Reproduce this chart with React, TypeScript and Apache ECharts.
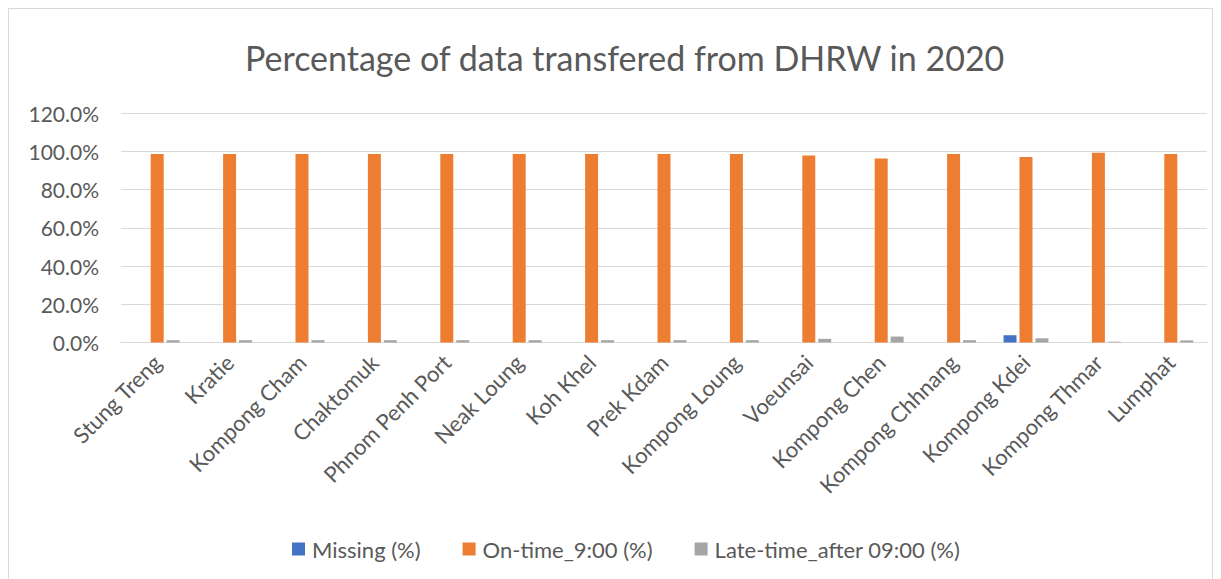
import React, { useEffect, useRef } from "react";
import * as echarts from "echarts";

const categories = [
  "Stung Treng", "Kratie", "Kompong Cham", "Chaktomuk", "Phnom Penh Port",
  "Neak Loung", "Koh Khel", "Prek Kdam", "Kompong Loung", "Voeunsai",
  "Kompong Chen", "Kompong Chhnang", "Kompong Kdei", "Kompong Thmar", "Lumphat",
];
const missing = [0, 0, 0, 0, 0, 0, 0, 0, 0, 0, 0, 0, 0.038, 0, 0];
const onTime = [0.985, 0.985, 0.985, 0.985, 0.985, 0.985, 0.985, 0.985, 0.985, 0.978, 0.962, 0.985, 0.97, 0.992, 0.985];
const lateTime = [0.012, 0.012, 0.012, 0.012, 0.012, 0.012, 0.012, 0.012, 0.012, 0.019, 0.031, 0.012, 0.022, 0.004, 0.011];
const seriesNames = ["Missing (%)", "On-time_9:00 (%)", "Late-time_after 09:00 (%)"];
const colors = ["#4472C4", "#ED7D31", "#A5A5A5"];

const FONT = "Lato, 'Open Sans', sans-serif";

export default function App() {
  const ref = useRef<HTMLDivElement>(null);
  useEffect(() => {
    if (!ref.current) return;
    const chart = echarts.init(ref.current, null, { renderer: "svg" });
    const data = [missing, onTime, lateTime];
    chart.setOption({
      animation: false,
      textStyle: { fontFamily: FONT },
      title: {
        text: "Percentage of data transfered from DHRW in 2020",
        left: 231,
        top: 26,
        textStyle: { fontFamily: FONT, fontSize: 34, fontWeight: "normal", color: "#595959" },
      },
      legend: {
        bottom: 17,
        left: 278,
        itemWidth: 13,
        itemHeight: 13,
        itemGap: 42,
        icon: "rect",
        textStyle: { fontFamily: FONT, fontSize: 22, color: "#595959", padding: [0, 0, 0, 2] },
        data: seriesNames,
      },
      grid: { left: 112, right: 5, top: 104, bottom: 239.5, containLabel: false },
      xAxis: {
        type: "category",
        data: categories,
        axisLine: { lineStyle: { color: "#d9d9d9" } },
        axisTick: { show: false },
        axisLabel: { rotate: 45, fontSize: 22, color: "#595959", margin: 16, interval: 0, fontFamily: FONT },
      },
      yAxis: {
        type: "value",
        min: 0,
        max: 1.2,
        interval: 0.2,
        axisLine: { show: false },
        axisTick: { show: false },
        splitLine: { lineStyle: { color: "#d9d9d9" } },
        axisLabel: {
          fontSize: 21,
          color: "#595959",
          margin: 22,
          fontFamily: FONT,
          formatter: (v: number) => (v * 100).toFixed(1) + "%",
        },
      },
      series: seriesNames.map((name, i) => ({
        name,
        type: "bar",
        data: data[i],
        itemStyle: { color: colors[i] },
        barGap: "23%",
        barCategoryGap: "38%",
      })),
    });
    return () => chart.dispose();
  }, []);
  return (
    <div
      ref={ref}
      style={{ width: 1203, height: 573, border: "1px solid #d9d9d9", background: "#fff" }}
    />
  );
}
